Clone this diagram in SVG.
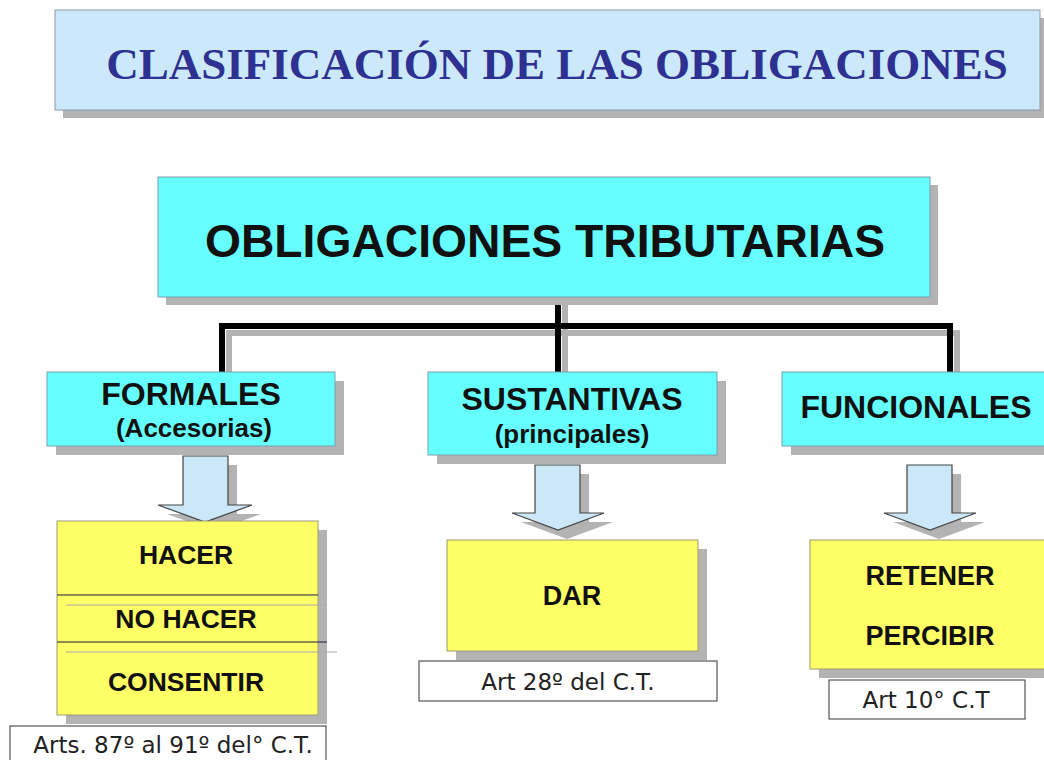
<svg xmlns="http://www.w3.org/2000/svg" width="1044" height="760" viewBox="0 0 1044 760">
<style>
.sh{fill:#b3b3b3}
.cyan{fill:#66ffff;stroke:#7aa0b0;stroke-width:1}
.yel{fill:#ffff66;stroke:#9a9a70;stroke-width:1}
.lab{fill:#ffffff;stroke:#333;stroke-width:1}
.arr{fill:#cce8f8;stroke:#444;stroke-width:1.2}
.b{font-family:"Liberation Sans",Arial,sans-serif;font-weight:bold;fill:#111;text-anchor:middle}
.r{font-family:"DejaVu Sans",Verdana,sans-serif;fill:#222;text-anchor:middle;font-size:23px}
.con{fill:none;stroke:#000;stroke-width:6}
.conSh{fill:none;stroke:#b3b3b3;stroke-width:6}
</style>
<rect width="1044" height="760" fill="#fff"/>
<g id="title">
<rect class="sh" x="63" y="18" width="985" height="100"/>
<rect x="55" y="10" width="985" height="100" fill="#cce9fb" stroke="#8a9aa8" stroke-width="1"/>
<text x="557" y="79" text-anchor="middle" font-family="Liberation Serif,Times New Roman,serif" font-weight="bold" font-size="45" fill="#2e3192">CLASIFICACIÓN DE LAS OBLIGACIONES</text>
</g>
<g id="connectors">
<path class="conSh" d="M565 297V372M229 372V333H957V372"/>
<path class="con" d="M558 297V372M222 372V326H950V372"/>
</g>
<g id="main">
<rect class="sh" x="166" y="185" width="772" height="120"/>
<rect class="cyan" x="158" y="177" width="772" height="120"/>
<text class="b" x="545" y="257" font-size="47" textLength="680" lengthAdjust="spacingAndGlyphs">OBLIGACIONES TRIBUTARIAS</text>
</g>
<g id="formales">
<rect class="sh" x="56" y="381" width="288" height="74"/>
<rect class="cyan" x="47" y="372" width="288" height="74"/>
<text class="b" x="191" y="405" font-size="32">FORMALES</text>
<text class="b" x="194" y="437" font-size="26">(Accesorias)</text>
</g>
<g id="sustantivas">
<rect class="sh" x="437" y="381" width="289" height="83"/>
<rect class="cyan" x="428" y="372" width="289" height="83"/>
<text class="b" x="572" y="410" font-size="32">SUSTANTIVAS</text>
<text class="b" x="572" y="443" font-size="26">(principales)</text>
</g>
<g id="funcionales">
<rect class="sh" x="791" y="381" width="260" height="74"/>
<rect class="cyan" x="782" y="372" width="270" height="74"/>
<text class="b" x="916" y="418" font-size="32">FUNCIONALES</text>
</g>
<g id="arrow1">
<path class="sh" d="M192 465H237V514H261L214 531L167 514H192Z"/>
<path class="arr" d="M183 456H228V505H252L205 522L158 505H183Z"/>
</g>
<g id="arrow2">
<path class="sh" d="M544 474H589V522H613L567 539L521 522H544Z"/>
<path class="arr" d="M535 465H580V513H604L558 530L512 513H535Z"/>
</g>
<g id="arrow3">
<path class="sh" d="M916 474H961V522H985L939 539L893 522H916Z"/>
<path class="arr" d="M907 465H952V513H976L930 530L884 513H907Z"/>
</g>
<g id="formales-detail">
<rect class="sh" x="66" y="530" width="261" height="194"/>
<rect class="yel" x="57" y="521" width="261" height="194"/>
<line x1="66" y1="605" x2="327" y2="605" stroke="#aaa" stroke-width="1"/>
<line x1="66" y1="652" x2="337" y2="652" stroke="#aaa" stroke-width="1"/>
<line x1="57" y1="595" x2="318" y2="595" stroke="#1a1a40" stroke-width="1"/>
<line x1="57" y1="642" x2="327" y2="642" stroke="#1a1a40" stroke-width="1"/>
<text class="b" x="186" y="564" font-size="26.5">HACER</text>
<text class="b" x="186" y="628" font-size="26.5">NO HACER</text>
<text class="b" x="186" y="691" font-size="26.5">CONSENTIR</text>
</g>
<g id="formales-ref">
<rect class="lab" x="10" y="726" width="316" height="40"/>
<text class="r" x="173" y="753" font-size="22.5">Arts. 87º al 91º del° C.T.</text>
</g>
<g id="sustantivas-detail">
<rect class="sh" x="456" y="549" width="251" height="111"/>
<rect class="yel" x="447" y="540" width="251" height="111"/>
<text class="b" x="572" y="605" font-size="27">DAR</text>
</g>
<g id="sustantivas-ref">
<rect class="lab" x="419" y="661" width="298" height="40"/>
<text class="r" x="568" y="690">Art 28º del C.T.</text>
</g>
<g id="funcionales-detail">
<rect class="sh" x="819" y="549" width="235" height="129"/>
<rect class="yel" x="810" y="540" width="240" height="129"/>
<text class="b" x="930" y="585" font-size="27">RETENER</text>
<text class="b" x="930" y="645" font-size="27">PERCIBIR</text>
</g>
<g id="funcionales-ref">
<rect class="lab" x="829" y="680" width="196" height="39"/>
<text class="r" x="926" y="708">Art 10° C.T</text>
</g>
</svg>
